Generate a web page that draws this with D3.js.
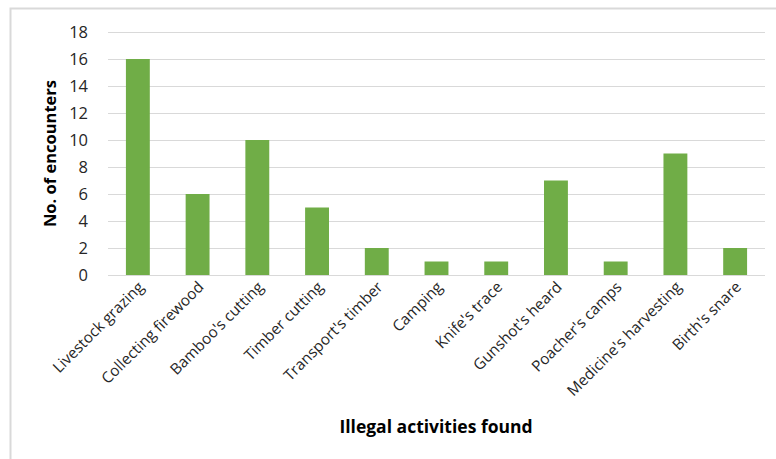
<!DOCTYPE html>
<html>
<head>
<meta charset="utf-8">
<script src="https://cdn.jsdelivr.net/npm/d3@7"></script>
<style>
  body { margin: 0; background: #fff; }
  text { font-family: "Open Sans", "Liberation Sans", sans-serif; }
</style>
</head>
<body>
<svg id="graph" width="776" height="459"></svg>
<script>
// Categories and counts
var categories = ["Livestock grazing", "Collecting firewood", "Bamboo's cutting", "Timber cutting",
    "Transport's timber", "Camping", "Knife's trace", "Gunshot's heard", "Poacher's camps",
    "Medicine's harvesting", "Birth's snare"];
var counts = [16, 6, 10, 5, 2, 1, 1, 7, 1, 9, 2];
var yTicks = [0, 2, 4, 6, 8, 10, 12, 14, 16, 18];

var svg = d3.select("#graph"),
    width = +svg.attr("width"),
    height = +svg.attr("height"),
    margin = {top: 32, right: 11, bottom: 184, left: 108};

// Outer chart border
svg.append("rect")
    .attr("x", 10.5).attr("y", 8.5)
    .attr("width", width + 10).attr("height", height + 10)
    .attr("fill", "none").attr("stroke", "#d9d9d9").attr("stroke-width", 2);

var xScale = d3.scaleBand().domain(categories)
    .range([margin.left, width - margin.right])
    .paddingInner(0.6).paddingOuter(0.3);
var yScale = d3.scaleLinear().domain([0, 18]).range([height - margin.bottom, margin.top]);

// Gridlines
svg.append("g").selectAll("line").data(yTicks).enter().append("line")
    .attr("x1", margin.left).attr("x2", width - margin.right)
    .attr("y1", d => Math.round(yScale(d)) + 0.5).attr("y2", d => Math.round(yScale(d)) + 0.5)
    .attr("stroke", "#d9d9d9").attr("stroke-width", 1);

// Y tick labels
svg.append("g").selectAll("text").data(yTicks).enter().append("text")
    .attr("x", 88).attr("y", d => yScale(d))
    .attr("dy", "0.36em")
    .attr("text-anchor", "end")
    .attr("font-size", 16.5)
    .attr("fill", "#262626")
    .text(d => d);

// Bars
svg.append("g").selectAll("rect").data(counts).enter().append("rect")
    .attr("x", (d, i) => xScale(categories[i]))
    .attr("y", d => yScale(d))
    .attr("width", xScale.bandwidth())
    .attr("height", d => yScale(0) - yScale(d))
    .attr("fill", "#70ad47");

// X tick labels, rotated
svg.append("g").selectAll("text").data(categories).enter().append("text")
    .attr("transform", d => "translate(" + (xScale(d) + xScale.bandwidth() / 2 + 7) + "," + (yScale(0) + 13) + ") rotate(-45)")
    .attr("text-anchor", "end")
    .attr("font-size", 15.3)
    .attr("fill", "#262626")
    .text(d => d);

// Axis titles
svg.append("text")
    .attr("transform", "translate(56," + ((margin.top + yScale(0)) / 2) + ") rotate(-90)")
    .attr("text-anchor", "middle")
    .attr("font-size", 16.5).attr("font-weight", "bold")
    .attr("fill", "#000")
    .text("No. of encounters");

svg.append("text")
    .attr("x", 436).attr("y", 433)
    .attr("text-anchor", "middle")
    .attr("font-size", 17.5).attr("font-weight", "bold")
    .attr("fill", "#000")
    .text("Illegal activities found");
</script>
</body>
</html>
